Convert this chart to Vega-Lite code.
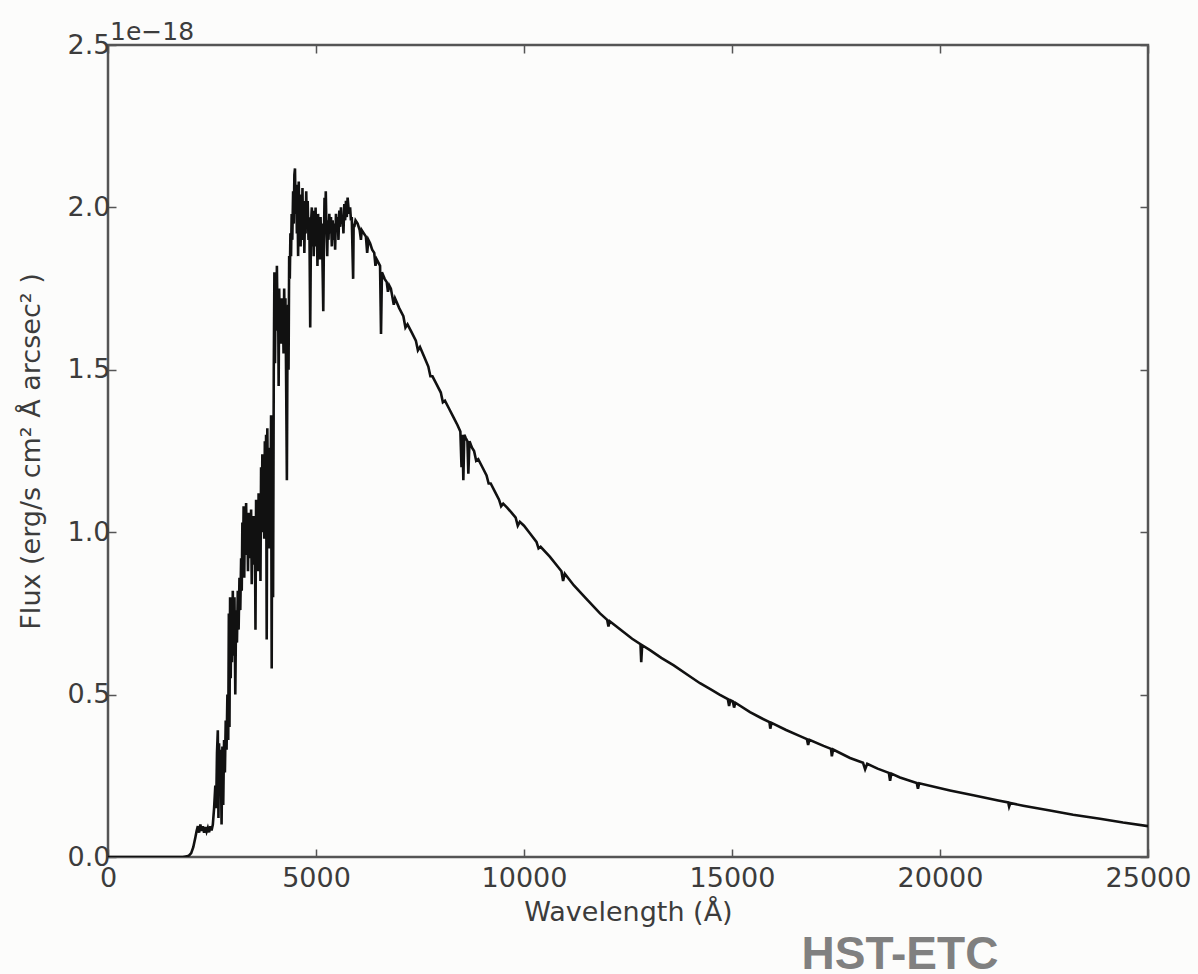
{
  "$schema": "https://vega.github.io/schema/vega-lite/v6.json",
  "autosize": {"type": "none"},
  "padding": {"left": 108, "top": 45, "right": 50, "bottom": 117},
  "width": 1040,
  "height": 812,
  "background": "#fcfcfb",
  "config": {
    "view": {"stroke": "#555555", "strokeWidth": 2.5},
    "axis": {
      "grid": false,
      "domain": false,
      "tickColor": "#555555",
      "tickWidth": 1.5,
      "tickSize": -8,
      "labelFont": "DejaVu Sans",
      "labelFontSize": 27,
      "labelColor": "#3c3c3c",
      "titleFont": "DejaVu Sans",
      "titleFontSize": 27,
      "titleFontWeight": "normal",
      "titleColor": "#3c3c3c"
    }
  },
  "datasets": {
    "spectrum": [
      {"wavelength": 0, "flux": 0}, {"wavelength": 1000, "flux": 0}, {"wavelength": 1500, "flux": 0}, {"wavelength": 1800, "flux": 0},
      {"wavelength": 1900, "flux": 0.002}, {"wavelength": 1950, "flux": 0.005}, {"wavelength": 2000, "flux": 0.012}, {"wavelength": 2050, "flux": 0.03},
      {"wavelength": 2100, "flux": 0.06}, {"wavelength": 2130, "flux": 0.08}, {"wavelength": 2160, "flux": 0.095}, {"wavelength": 2190, "flux": 0.075},
      {"wavelength": 2220, "flux": 0.1}, {"wavelength": 2250, "flux": 0.08}, {"wavelength": 2280, "flux": 0.095}, {"wavelength": 2310, "flux": 0.075},
      {"wavelength": 2340, "flux": 0.092}, {"wavelength": 2370, "flux": 0.078}, {"wavelength": 2400, "flux": 0.09}, {"wavelength": 2430, "flux": 0.076},
      {"wavelength": 2460, "flux": 0.095}, {"wavelength": 2490, "flux": 0.082}, {"wavelength": 2520, "flux": 0.1}, {"wavelength": 2550, "flux": 0.15},
      {"wavelength": 2580, "flux": 0.22}, {"wavelength": 2600, "flux": 0.15}, {"wavelength": 2620, "flux": 0.32}, {"wavelength": 2640, "flux": 0.39},
      {"wavelength": 2655, "flux": 0.12}, {"wavelength": 2670, "flux": 0.35}, {"wavelength": 2690, "flux": 0.2}, {"wavelength": 2710, "flux": 0.33},
      {"wavelength": 2730, "flux": 0.1}, {"wavelength": 2750, "flux": 0.34}, {"wavelength": 2770, "flux": 0.16}, {"wavelength": 2790, "flux": 0.36},
      {"wavelength": 2810, "flux": 0.26}, {"wavelength": 2830, "flux": 0.42}, {"wavelength": 2850, "flux": 0.33}, {"wavelength": 2870, "flux": 0.5},
      {"wavelength": 2890, "flux": 0.36}, {"wavelength": 2905, "flux": 0.75}, {"wavelength": 2920, "flux": 0.4}, {"wavelength": 2935, "flux": 0.8},
      {"wavelength": 2950, "flux": 0.55}, {"wavelength": 2965, "flux": 0.78}, {"wavelength": 2980, "flux": 0.6}, {"wavelength": 3000, "flux": 0.82},
      {"wavelength": 3020, "flux": 0.62}, {"wavelength": 3040, "flux": 0.8}, {"wavelength": 3060, "flux": 0.5}, {"wavelength": 3080, "flux": 0.76},
      {"wavelength": 3100, "flux": 0.66}, {"wavelength": 3120, "flux": 0.82}, {"wavelength": 3140, "flux": 0.7}, {"wavelength": 3160, "flux": 0.86},
      {"wavelength": 3180, "flux": 0.76}, {"wavelength": 3200, "flux": 0.92}, {"wavelength": 3215, "flux": 0.82}, {"wavelength": 3230, "flux": 1.03},
      {"wavelength": 3245, "flux": 0.9}, {"wavelength": 3260, "flux": 1.08}, {"wavelength": 3275, "flux": 0.86}, {"wavelength": 3290, "flux": 1.05},
      {"wavelength": 3305, "flux": 0.93}, {"wavelength": 3320, "flux": 1.09}, {"wavelength": 3335, "flux": 0.96}, {"wavelength": 3350, "flux": 1.04},
      {"wavelength": 3365, "flux": 0.88}, {"wavelength": 3380, "flux": 1.06}, {"wavelength": 3395, "flux": 0.92}, {"wavelength": 3410, "flux": 1.03},
      {"wavelength": 3425, "flux": 0.95}, {"wavelength": 3440, "flux": 1.07}, {"wavelength": 3455, "flux": 0.84}, {"wavelength": 3470, "flux": 1.01},
      {"wavelength": 3485, "flux": 0.93}, {"wavelength": 3500, "flux": 1.05}, {"wavelength": 3515, "flux": 0.9}, {"wavelength": 3530, "flux": 1.03},
      {"wavelength": 3545, "flux": 0.7}, {"wavelength": 3560, "flux": 1.1}, {"wavelength": 3575, "flux": 0.95}, {"wavelength": 3590, "flux": 1.08},
      {"wavelength": 3605, "flux": 0.88}, {"wavelength": 3620, "flux": 1.12}, {"wavelength": 3635, "flux": 0.92}, {"wavelength": 3650, "flux": 1.05},
      {"wavelength": 3665, "flux": 0.85}, {"wavelength": 3680, "flux": 1.2}, {"wavelength": 3695, "flux": 1.0}, {"wavelength": 3710, "flux": 1.24},
      {"wavelength": 3725, "flux": 1.05}, {"wavelength": 3740, "flux": 1.15}, {"wavelength": 3755, "flux": 0.98}, {"wavelength": 3770, "flux": 1.28},
      {"wavelength": 3785, "flux": 1.05}, {"wavelength": 3800, "flux": 1.3}, {"wavelength": 3815, "flux": 0.67}, {"wavelength": 3830, "flux": 1.32},
      {"wavelength": 3845, "flux": 1.1}, {"wavelength": 3860, "flux": 1.2}, {"wavelength": 3875, "flux": 0.95}, {"wavelength": 3890, "flux": 1.26},
      {"wavelength": 3905, "flux": 1.05}, {"wavelength": 3920, "flux": 1.36}, {"wavelength": 3935, "flux": 0.58}, {"wavelength": 3950, "flux": 1.34},
      {"wavelength": 3968, "flux": 0.8}, {"wavelength": 3985, "flux": 1.5}, {"wavelength": 4000, "flux": 1.8}, {"wavelength": 4015, "flux": 1.52},
      {"wavelength": 4030, "flux": 1.78}, {"wavelength": 4045, "flux": 1.62}, {"wavelength": 4060, "flux": 1.82}, {"wavelength": 4075, "flux": 1.65},
      {"wavelength": 4090, "flux": 1.72}, {"wavelength": 4102, "flux": 1.45}, {"wavelength": 4115, "flux": 1.75}, {"wavelength": 4130, "flux": 1.62},
      {"wavelength": 4145, "flux": 1.7}, {"wavelength": 4160, "flux": 1.58}, {"wavelength": 4175, "flux": 1.72}, {"wavelength": 4190, "flux": 1.6},
      {"wavelength": 4205, "flux": 1.67}, {"wavelength": 4220, "flux": 1.55}, {"wavelength": 4235, "flux": 1.75}, {"wavelength": 4250, "flux": 1.6},
      {"wavelength": 4265, "flux": 1.72}, {"wavelength": 4280, "flux": 1.5}, {"wavelength": 4300, "flux": 1.16}, {"wavelength": 4315, "flux": 1.6},
      {"wavelength": 4330, "flux": 1.7}, {"wavelength": 4340, "flux": 1.5}, {"wavelength": 4355, "flux": 1.85}, {"wavelength": 4370, "flux": 1.78},
      {"wavelength": 4385, "flux": 1.92}, {"wavelength": 4400, "flux": 1.85}, {"wavelength": 4415, "flux": 1.98}, {"wavelength": 4430, "flux": 1.9},
      {"wavelength": 4450, "flux": 2.05}, {"wavelength": 4465, "flux": 1.95}, {"wavelength": 4480, "flux": 2.1}, {"wavelength": 4495, "flux": 2.12},
      {"wavelength": 4510, "flux": 1.98}, {"wavelength": 4525, "flux": 2.07}, {"wavelength": 4540, "flux": 1.92}, {"wavelength": 4555, "flux": 2.05},
      {"wavelength": 4570, "flux": 1.85}, {"wavelength": 4585, "flux": 2.08}, {"wavelength": 4600, "flux": 1.95}, {"wavelength": 4615, "flux": 2.04},
      {"wavelength": 4630, "flux": 1.88}, {"wavelength": 4645, "flux": 2.0}, {"wavelength": 4660, "flux": 1.93}, {"wavelength": 4675, "flux": 2.06},
      {"wavelength": 4690, "flux": 1.9}, {"wavelength": 4705, "flux": 2.02}, {"wavelength": 4720, "flux": 1.86}, {"wavelength": 4735, "flux": 1.98},
      {"wavelength": 4750, "flux": 1.92}, {"wavelength": 4765, "flux": 2.05}, {"wavelength": 4780, "flux": 1.95}, {"wavelength": 4800, "flux": 2.02},
      {"wavelength": 4820, "flux": 1.9}, {"wavelength": 4840, "flux": 1.97}, {"wavelength": 4861, "flux": 1.63}, {"wavelength": 4880, "flux": 1.95},
      {"wavelength": 4900, "flux": 2.0}, {"wavelength": 4915, "flux": 1.88}, {"wavelength": 4930, "flux": 1.99}, {"wavelength": 4945, "flux": 1.85},
      {"wavelength": 4960, "flux": 1.97}, {"wavelength": 4975, "flux": 1.9}, {"wavelength": 4990, "flux": 2.0}, {"wavelength": 5005, "flux": 1.88},
      {"wavelength": 5020, "flux": 1.96}, {"wavelength": 5035, "flux": 1.82}, {"wavelength": 5050, "flux": 1.98}, {"wavelength": 5065, "flux": 1.9},
      {"wavelength": 5080, "flux": 1.94}, {"wavelength": 5095, "flux": 1.84}, {"wavelength": 5110, "flux": 1.97}, {"wavelength": 5125, "flux": 1.88},
      {"wavelength": 5140, "flux": 1.95}, {"wavelength": 5160, "flux": 1.8}, {"wavelength": 5175, "flux": 1.68}, {"wavelength": 5190, "flux": 1.9},
      {"wavelength": 5205, "flux": 2.03}, {"wavelength": 5220, "flux": 1.92}, {"wavelength": 5235, "flux": 2.05}, {"wavelength": 5250, "flux": 1.94},
      {"wavelength": 5270, "flux": 1.85}, {"wavelength": 5285, "flux": 1.96}, {"wavelength": 5300, "flux": 1.9}, {"wavelength": 5320, "flux": 1.98},
      {"wavelength": 5340, "flux": 1.92}, {"wavelength": 5360, "flux": 1.97}, {"wavelength": 5380, "flux": 1.88}, {"wavelength": 5400, "flux": 1.96},
      {"wavelength": 5420, "flux": 1.9}, {"wavelength": 5440, "flux": 1.95}, {"wavelength": 5460, "flux": 1.87}, {"wavelength": 5480, "flux": 1.98},
      {"wavelength": 5500, "flux": 1.93}, {"wavelength": 5520, "flux": 1.97}, {"wavelength": 5540, "flux": 1.9}, {"wavelength": 5560, "flux": 1.99},
      {"wavelength": 5580, "flux": 1.94}, {"wavelength": 5600, "flux": 2.0}, {"wavelength": 5620, "flux": 1.95}, {"wavelength": 5640, "flux": 1.97},
      {"wavelength": 5660, "flux": 1.92}, {"wavelength": 5680, "flux": 2.01}, {"wavelength": 5700, "flux": 1.96}, {"wavelength": 5720, "flux": 2.02},
      {"wavelength": 5740, "flux": 1.97}, {"wavelength": 5760, "flux": 2.03}, {"wavelength": 5780, "flux": 2.0}, {"wavelength": 5800, "flux": 1.98},
      {"wavelength": 5820, "flux": 2.0}, {"wavelength": 5840, "flux": 1.96}, {"wavelength": 5860, "flux": 1.97}, {"wavelength": 5880, "flux": 1.85},
      {"wavelength": 5893, "flux": 1.78}, {"wavelength": 5905, "flux": 1.95}, {"wavelength": 5920, "flux": 1.94}, {"wavelength": 5950, "flux": 1.96},
      {"wavelength": 6000, "flux": 1.95}, {"wavelength": 6050, "flux": 1.93}, {"wavelength": 6080, "flux": 1.9}, {"wavelength": 6100, "flux": 1.93},
      {"wavelength": 6150, "flux": 1.92}, {"wavelength": 6200, "flux": 1.91}, {"wavelength": 6230, "flux": 1.86}, {"wavelength": 6260, "flux": 1.9},
      {"wavelength": 6300, "flux": 1.89}, {"wavelength": 6350, "flux": 1.87}, {"wavelength": 6400, "flux": 1.86}, {"wavelength": 6430, "flux": 1.82},
      {"wavelength": 6460, "flux": 1.84}, {"wavelength": 6500, "flux": 1.83}, {"wavelength": 6540, "flux": 1.82}, {"wavelength": 6563, "flux": 1.61},
      {"wavelength": 6585, "flux": 1.8}, {"wavelength": 6650, "flux": 1.78}, {"wavelength": 6700, "flux": 1.77}, {"wavelength": 6730, "flux": 1.74},
      {"wavelength": 6760, "flux": 1.76}, {"wavelength": 6800, "flux": 1.75}, {"wavelength": 6870, "flux": 1.7}, {"wavelength": 6900, "flux": 1.72},
      {"wavelength": 7000, "flux": 1.69}, {"wavelength": 7100, "flux": 1.665}, {"wavelength": 7150, "flux": 1.63}, {"wavelength": 7200, "flux": 1.64},
      {"wavelength": 7300, "flux": 1.615}, {"wavelength": 7400, "flux": 1.59}, {"wavelength": 7450, "flux": 1.56}, {"wavelength": 7500, "flux": 1.57},
      {"wavelength": 7600, "flux": 1.54}, {"wavelength": 7700, "flux": 1.51}, {"wavelength": 7750, "flux": 1.48}, {"wavelength": 7800, "flux": 1.48},
      {"wavelength": 7900, "flux": 1.455}, {"wavelength": 8000, "flux": 1.43}, {"wavelength": 8050, "flux": 1.4}, {"wavelength": 8100, "flux": 1.405},
      {"wavelength": 8200, "flux": 1.38}, {"wavelength": 8300, "flux": 1.355}, {"wavelength": 8400, "flux": 1.33}, {"wavelength": 8470, "flux": 1.31},
      {"wavelength": 8498, "flux": 1.2}, {"wavelength": 8520, "flux": 1.3}, {"wavelength": 8542, "flux": 1.16}, {"wavelength": 8565, "flux": 1.3},
      {"wavelength": 8600, "flux": 1.29}, {"wavelength": 8640, "flux": 1.28}, {"wavelength": 8662, "flux": 1.18}, {"wavelength": 8690, "flux": 1.28},
      {"wavelength": 8750, "flux": 1.26}, {"wavelength": 8800, "flux": 1.25}, {"wavelength": 8850, "flux": 1.22}, {"wavelength": 8900, "flux": 1.225},
      {"wavelength": 9000, "flux": 1.2}, {"wavelength": 9100, "flux": 1.175}, {"wavelength": 9150, "flux": 1.15}, {"wavelength": 9200, "flux": 1.15},
      {"wavelength": 9300, "flux": 1.125}, {"wavelength": 9400, "flux": 1.1}, {"wavelength": 9450, "flux": 1.08}, {"wavelength": 9500, "flux": 1.088},
      {"wavelength": 9600, "flux": 1.075}, {"wavelength": 9700, "flux": 1.06}, {"wavelength": 9800, "flux": 1.045}, {"wavelength": 9850, "flux": 1.02},
      {"wavelength": 9900, "flux": 1.032}, {"wavelength": 10000, "flux": 1.02}, {"wavelength": 10150, "flux": 0.995}, {"wavelength": 10300, "flux": 0.97},
      {"wavelength": 10350, "flux": 0.95}, {"wavelength": 10400, "flux": 0.955}, {"wavelength": 10625, "flux": 0.924}, {"wavelength": 10800, "flux": 0.896},
      {"wavelength": 10900, "flux": 0.88}, {"wavelength": 10940, "flux": 0.85}, {"wavelength": 10980, "flux": 0.872}, {"wavelength": 11200, "flux": 0.836},
      {"wavelength": 11500, "flux": 0.795}, {"wavelength": 11827, "flux": 0.75}, {"wavelength": 12000, "flux": 0.73}, {"wavelength": 12030, "flux": 0.71},
      {"wavelength": 12060, "flux": 0.726}, {"wavelength": 12200, "flux": 0.712}, {"wavelength": 12400, "flux": 0.692}, {"wavelength": 12600, "flux": 0.672},
      {"wavelength": 12800, "flux": 0.655}, {"wavelength": 12818, "flux": 0.6}, {"wavelength": 12840, "flux": 0.652}, {"wavelength": 13029, "flux": 0.637},
      {"wavelength": 13300, "flux": 0.613}, {"wavelength": 13600, "flux": 0.59}, {"wavelength": 14000, "flux": 0.555}, {"wavelength": 14231, "flux": 0.535},
      {"wavelength": 14500, "flux": 0.515}, {"wavelength": 14700, "flux": 0.5}, {"wavelength": 14900, "flux": 0.486}, {"wavelength": 14930, "flux": 0.465},
      {"wavelength": 14960, "flux": 0.483}, {"wavelength": 15020, "flux": 0.479}, {"wavelength": 15050, "flux": 0.46}, {"wavelength": 15080, "flux": 0.475},
      {"wavelength": 15433, "flux": 0.446}, {"wavelength": 15700, "flux": 0.428}, {"wavelength": 15900, "flux": 0.415}, {"wavelength": 15920, "flux": 0.395},
      {"wavelength": 15950, "flux": 0.413}, {"wavelength": 16300, "flux": 0.391}, {"wavelength": 16635, "flux": 0.372}, {"wavelength": 16800, "flux": 0.363},
      {"wavelength": 16830, "flux": 0.345}, {"wavelength": 16860, "flux": 0.361}, {"wavelength": 17200, "flux": 0.342}, {"wavelength": 17380, "flux": 0.333},
      {"wavelength": 17400, "flux": 0.31}, {"wavelength": 17430, "flux": 0.331}, {"wavelength": 17837, "flux": 0.305}, {"wavelength": 18150, "flux": 0.29},
      {"wavelength": 18200, "flux": 0.27}, {"wavelength": 18250, "flux": 0.287}, {"wavelength": 18500, "flux": 0.272}, {"wavelength": 18770, "flux": 0.259},
      {"wavelength": 18800, "flux": 0.235}, {"wavelength": 18830, "flux": 0.257}, {"wavelength": 19038, "flux": 0.245}, {"wavelength": 19440, "flux": 0.228},
      {"wavelength": 19470, "flux": 0.21}, {"wavelength": 19500, "flux": 0.227}, {"wavelength": 20240, "flux": 0.205}, {"wavelength": 20800, "flux": 0.19},
      {"wavelength": 21400, "flux": 0.174}, {"wavelength": 21640, "flux": 0.168}, {"wavelength": 21661, "flux": 0.155}, {"wavelength": 21690, "flux": 0.166},
      {"wavelength": 22000, "flux": 0.158}, {"wavelength": 22644, "flux": 0.143}, {"wavelength": 23200, "flux": 0.13}, {"wavelength": 23846, "flux": 0.118},
      {"wavelength": 24400, "flux": 0.106}, {"wavelength": 25000, "flux": 0.095}
    ],
    "notes": [
      {"label": "1e−18", "wavelength": 0, "flux": 2.5},
      {"label": "HST-ETC", "wavelength": 19038, "flux": -0.345}
    ]
  },
  "layer": [
    {
      "data": {"name": "spectrum"},
      "mark": {"type": "line", "color": "#111111", "strokeWidth": 2.6, "clip": true},
      "encoding": {
        "x": {"field": "wavelength", "type": "quantitative",
          "scale": {"domain": [0, 25000], "nice": false},
          "axis": {"orient": "bottom", "values": [0, 5000, 10000, 15000, 20000, 25000], "format": "d", "labelPadding": 16, "title": "Wavelength (Å)", "titlePadding": 8, "labelFlush": false}},
        "y": {"field": "flux", "type": "quantitative",
          "scale": {"domain": [0, 2.5], "nice": false},
          "axis": {"orient": "left", "values": [0, 0.5, 1, 1.5, 2, 2.5], "format": ".1f", "labelPadding": 6, "title": "Flux (erg/s cm² Å arcsec² )", "titlePadding": 22, "labelFlush": false}}
      }
    },
    {
      "data": {"name": "spectrum"},
      "mark": {"type": "line", "strokeOpacity": 0},
      "encoding": {
        "x": {"field": "wavelength", "type": "quantitative",
          "axis": {"orient": "top", "values": [0, 5000, 10000, 15000, 20000, 25000], "labels": false, "title": null}},
        "y": {"field": "flux", "type": "quantitative",
          "axis": {"orient": "right", "values": [0, 0.5, 1, 1.5, 2, 2.5], "labels": false, "title": null}}
      }
    },
    {
      "data": {"name": "notes"},
      "transform": [{"filter": "datum.label === '1e−18'"}],
      "mark": {"type": "text", "align": "left", "baseline": "alphabetic", "dx": 2, "dy": -5, "font": "DejaVu Sans", "fontSize": 25, "color": "#3c3c3c"},
      "encoding": {
        "x": {"field": "wavelength", "type": "quantitative", "axis": null},
        "y": {"field": "flux", "type": "quantitative", "axis": null},
        "text": {"field": "label"}
      }
    },
    {
      "data": {"name": "notes"},
      "transform": [{"filter": "datum.label === 'HST-ETC'"}],
      "mark": {"type": "text", "align": "center", "baseline": "alphabetic", "font": "Liberation Sans", "fontWeight": "bold", "fontSize": 46, "color": "#808080"},
      "encoding": {
        "x": {"field": "wavelength", "type": "quantitative", "axis": null},
        "y": {"field": "flux", "type": "quantitative", "axis": null},
        "text": {"field": "label"}
      }
    }
  ],
  "resolve": {"axis": {"x": "independent", "y": "independent"}}
}
